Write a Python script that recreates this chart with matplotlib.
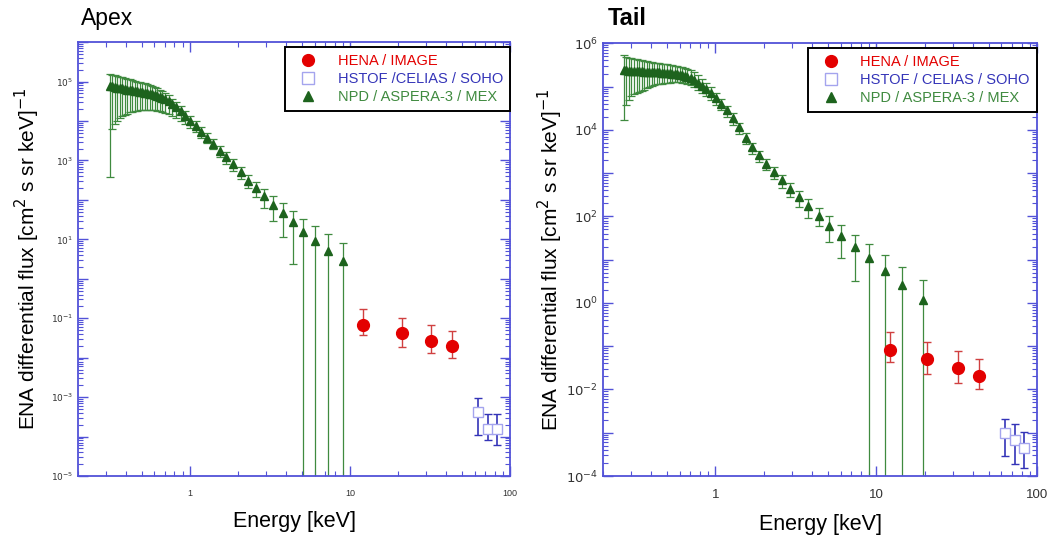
import matplotlib
matplotlib.use('Agg')
import matplotlib.pyplot as plt
from matplotlib.lines import Line2D
from matplotlib.ticker import LogLocator, FuncFormatter, NullFormatter
import numpy as np

plt.rcParams['font.family'] = ['Liberation Sans', 'DejaVu Sans']

# ---------------- Apex ----------------
# NPD / ASPERA-3 / MEX
apex_npd_energy = [0.316, 0.328, 0.340, 0.352, 0.365, 0.378, 0.392, 0.406, 0.421, 0.437,
                   0.452, 0.469, 0.485, 0.504, 0.521, 0.541, 0.560, 0.581, 0.601, 0.622,
                   0.646, 0.671, 0.701, 0.736, 0.776, 0.822, 0.875, 0.935, 1.005, 1.084,
                   1.175, 1.279, 1.400, 1.54, 1.69, 1.86, 2.07, 2.32, 2.58, 2.91,
                   3.32, 3.79, 4.39, 5.11, 6.07, 7.33, 8.99]
apex_npd_flux = [7.76e4, 7.59e4, 7.33e4, 7.08e4, 6.92e4, 6.76e4, 6.53e4, 6.31e4, 6.17e4, 6.03e4,
                 5.82e4, 5.62e4, 5.50e4, 5.37e4, 5.25e4, 5.01e4, 4.90e4, 4.73e4, 4.57e4, 4.37e4,
                 4.17e4, 3.89e4, 3.55e4, 3.16e4, 2.69e4, 2.24e4, 1.78e4, 1.35e4, 1.02e4, 7.59e3,
                 5.37e3, 3.80e3, 2.63e3, 1.78e3, 1.20e3, 794, 501, 309, 197, 123,
                 75.9, 46.5, 26.9, 15.8, 9.12, 5.09, 2.84]
apex_npd_high = [1.58e5, 1.51e5, 1.43e5, 1.38e5, 1.32e5, 1.29e5, 1.24e5, 1.17e5, 1.15e5, 1.10e5,
                 1.06e5, 1.00e5, 9.77e4, 9.33e4, 9.12e4, 8.51e4, 8.13e4, 7.67e4, 7.24e4, 6.76e4,
                 6.31e4, 5.75e4, 5.13e4, 4.47e4, 3.72e4, 3.02e4, 2.34e4, 1.78e4, 1.32e4, 9.77e3,
                 6.92e3, 4.90e3, 3.47e3, 2.34e3, 1.62e3, 1.07e3, 692, 437, 288, 191,
                 123, 81.3, 53.7, 32.4, 21.9, 13.5, 8.32]
apex_npd_low = [380, 6.31e3, 8.22e3, 1.00e4, 1.17e4, 1.35e4, 1.46e4, 1.55e4, 1.66e4, 1.74e4,
                1.80e4, 1.82e4, 1.86e4, 1.91e4, 1.91e4, 1.91e4, 1.91e4, 1.88e4, 1.86e4, 1.82e4,
                1.78e4, 1.70e4, 1.62e4, 1.51e4, 1.35e4, 1.20e4, 1.02e4, 8.32e3, 6.76e3, 5.25e3,
                3.80e3, 2.75e3, 1.91e3, 1.26e3, 832, 537, 331, 195, 117, 61.7,
                29.5, 11.5, 2.34, 0, 0, 0, 0]

# HENA / IMAGE
apex_hena_energy = [12.1, 21.0, 32.1, 43.2]
apex_hena_flux = [0.0667, 0.0427, 0.0272, 0.0195]
apex_hena_high = [0.174, 0.102, 0.0692, 0.0468]
apex_hena_low = [0.0372, 0.0186, 0.0132, 0.00955]

# HSTOF / CELIAS / SOHO
apex_hstof_energy = [62.8, 72.5, 82.6]
apex_hstof_flux = [4.17e-4, 1.55e-4, 1.55e-4]
apex_hstof_high = [9.5e-4, 3.8e-4, 3.8e-4]
apex_hstof_low = [1.1e-4, 8.3e-5, 6.2e-5]

# ---------------- Tail ----------------
tail_npd_energy = [0.270, 0.280, 0.290, 0.301, 0.312, 0.324, 0.336, 0.348, 0.361, 0.374,
                   0.388, 0.403, 0.418, 0.433, 0.449, 0.466, 0.483, 0.501, 0.519, 0.538,
                   0.558, 0.579, 0.601, 0.622, 0.646, 0.671, 0.701, 0.736, 0.776, 0.822,
                   0.875, 0.935, 1.005, 1.084, 1.175, 1.279, 1.400, 1.54, 1.69, 1.86,
                   2.07, 2.32, 2.58, 2.91, 3.32, 3.79, 4.39, 5.11, 6.07, 7.33,
                   8.99, 11.3, 14.5, 19.5]
tail_npd_flux = [2.40e5, 2.37e5, 2.34e5, 2.32e5, 2.29e5, 2.28e5, 2.25e5, 2.24e5, 2.22e5, 2.21e5,
                 2.19e5, 2.17e5, 2.15e5, 2.14e5, 2.12e5, 2.10e5, 2.08e5, 2.06e5, 2.03e5, 2.00e5,
                 1.95e5, 1.91e5, 1.86e5, 1.80e5, 1.74e5, 1.66e5, 1.55e5, 1.41e5, 1.23e5, 1.05e5,
                 8.71e4, 6.92e4, 5.37e4, 3.98e4, 2.82e4, 1.86e4, 1.15e4, 6.61e3, 3.98e3, 2.57e3,
                 1.66e3, 1.07e3, 692, 437, 275, 174, 102, 60.3, 35.5, 20.0,
                 11.0, 5.50, 2.57, 1.16]
tail_npd_high = [5.25e5, 4.90e5, 4.68e5, 4.47e5, 4.37e5, 4.27e5, 4.17e5, 4.07e5, 3.98e5, 3.89e5,
                 3.76e5, 3.67e5, 3.59e5, 3.51e5, 3.43e5, 3.39e5, 3.31e5, 3.24e5, 3.16e5, 3.09e5,
                 3.02e5, 2.95e5, 2.88e5, 2.79e5, 2.69e5, 2.57e5, 2.40e5, 2.14e5, 1.82e5, 1.51e5,
                 1.23e5, 9.55e4, 7.24e4, 5.25e4, 3.63e4, 2.40e4, 1.45e4, 8.32e3, 5.01e3, 3.24e3,
                 2.09e3, 1.35e3, 891, 589, 389, 251, 158, 100, 63.1, 38.0,
                 22.9, 12.6, 6.92, 3.31]
tail_npd_low = [1.66e4, 3.72e4, 5.01e4, 5.89e4, 6.61e4, 7.24e4, 7.59e4, 7.94e4, 8.51e4, 9.12e4,
                9.77e4, 1.02e5, 1.07e5, 1.12e5, 1.15e5, 1.17e5, 1.20e5, 1.23e5, 1.23e5, 1.26e5,
                1.26e5, 1.26e5, 1.26e5, 1.23e5, 1.20e5, 1.15e5, 1.07e5, 9.77e4, 8.51e4, 7.24e4,
                6.03e4, 4.90e4, 3.80e4, 2.82e4, 2.00e4, 1.32e4, 8.13e3, 4.68e3, 2.82e3, 1.78e3,
                1.15e3, 724, 457, 282, 166, 93.3, 58.9, 25.7, 11.2, 3.16,
                0, 0, 0, 0]

tail_hena_energy = [12.1, 20.7, 32.2, 43.6]
tail_hena_flux = [0.0813, 0.050, 0.0309, 0.0204]
tail_hena_high = [0.209, 0.123, 0.0776, 0.0495]
tail_hena_low = [0.0437, 0.0224, 0.0141, 0.0100]

tail_hstof_energy = [63.4, 72.9, 83.4]
tail_hstof_flux = [9.8e-4, 6.76e-4, 4.47e-4]
tail_hstof_high = [2.09e-3, 1.58e-3, 1.05e-3]
tail_hstof_low = [2.95e-4, 1.9e-4, 1.55e-4]

labels = ['HENA / IMAGE', 'HSTOF /CELIAS / SOHO', 'NPD / ASPERA-3 / MEX']
labels_tail = ['HENA / IMAGE', 'HSTOF / CELIAS / SOHO', 'NPD / ASPERA-3 / MEX']

axis_blue = '#5252d8'
green = '#1d631d'
green_bar = '#3f8a3f'
red = '#e30000'
red_bar = '#d04040'
blue_bar = '#3434b8'
square_edge = '#a4a4ee'


def yerr(flux, low, high):
    f = np.array(flux)
    return [f - np.array(low), np.array(high) - f]


def draw_panel(ax, npd, hena, hstof, ylim, odd, tick_size, legend_labels, ypad):
    ax.set_xscale('log')
    ax.set_yscale('log')

    e, f, lo, hi = npd
    ax.errorbar(e, f, yerr=yerr(f, lo, hi), fmt='^', color=green, ms=6,
                ecolor=green_bar, elinewidth=0.9, capsize=3, capthick=0.9)
    e, f, lo, hi = hena
    ax.errorbar(e, f, yerr=yerr(f, lo, hi), fmt='o', color=red, ms=8.5,
                ecolor=red_bar, elinewidth=1.0, capsize=3, capthick=1.0)
    e, f, lo, hi = hstof
    ax.errorbar(e, f, yerr=yerr(f, lo, hi), fmt='s', mfc='white', mec=square_edge,
                mew=1.0, ms=7, ecolor=blue_bar, elinewidth=1.2, capsize=3, capthick=1.2)

    ax.set_xlim(0.2, 100)
    ax.set_ylim(*ylim)

    # 坐标轴样式
    for sp in ax.spines.values():
        sp.set_color(axis_blue)
        sp.set_linewidth(1.3)
    ax.tick_params(which='both', direction='in', top=True, right=True, color=axis_blue)
    ax.tick_params(which='major', length=7, width=1.0, labelsize=tick_size, labelcolor='#333333')
    ax.tick_params(which='minor', length=3.5, width=0.8)
    ax.tick_params(axis='x', which='major', pad=9)

    ax.xaxis.set_major_locator(LogLocator(base=10, numticks=10))
    ax.xaxis.set_minor_locator(LogLocator(base=10, subs=np.arange(2, 10), numticks=10))
    ax.xaxis.set_major_formatter(FuncFormatter(lambda v, p: '%g' % v))
    ax.xaxis.set_minor_formatter(NullFormatter())

    def ylab(v, p):
        k = int(round(np.log10(v)))
        if k % 2 == odd:
            return r'$10^{%d}$' % k
        return ''
    ax.yaxis.set_major_locator(LogLocator(base=10, numticks=20))
    ax.yaxis.set_minor_locator(LogLocator(base=10, subs=np.arange(2, 10), numticks=20))
    ax.yaxis.set_major_formatter(FuncFormatter(ylab))
    ax.yaxis.set_minor_formatter(NullFormatter())

    ax.set_xlabel('Energy [keV]', fontsize=15.5, labelpad=10)
    ax.set_ylabel(r'ENA differential flux [cm$^2$ s sr keV]$^{-1}$', fontsize=15, labelpad=ypad)

    handles = [Line2D([], [], marker='o', color=red, ls='none', ms=8.5),
               Line2D([], [], marker='s', mfc='white', mec=square_edge, ls='none', ms=8.5),
               Line2D([], [], marker='^', color=green, ls='none', ms=7)]
    leg = ax.legend(handles, legend_labels, loc='upper right', bbox_to_anchor=(1.0, 0.99),
                    borderaxespad=0, fancybox=False, edgecolor='black', framealpha=1,
                    fontsize=10.5, handletextpad=0.9, labelspacing=0.28, borderpad=0.5,
                    handlelength=2.2)
    leg.get_frame().set_linewidth(1.4)
    for t, c in zip(leg.get_texts(), [red, blue_bar, green_bar]):
        t.set_color(c)


fig = plt.figure(figsize=(10.54, 5.45), dpi=100)
ax1 = fig.add_axes([0.074, 0.1266, 0.410, 0.796])
ax2 = fig.add_axes([0.572, 0.1266, 0.412, 0.794])

draw_panel(ax1,
           (apex_npd_energy, apex_npd_flux, apex_npd_low, apex_npd_high),
           (apex_hena_energy, apex_hena_flux, apex_hena_low, apex_hena_high),
           (apex_hstof_energy, apex_hstof_flux, apex_hstof_low, apex_hstof_high),
           (1e-5, 1e6), 1, 6.5, labels, 6)
draw_panel(ax2,
           (tail_npd_energy, tail_npd_flux, tail_npd_low, tail_npd_high),
           (tail_hena_energy, tail_hena_flux, tail_hena_low, tail_hena_high),
           (tail_hstof_energy, tail_hstof_flux, tail_hstof_low, tail_hstof_high),
           (1e-4, 1e6), 0, 9.5, labels_tail, 1)

fig.text(0.077, 0.966, 'Apex', fontsize=16.5, va='center', ha='left')
fig.text(0.577, 0.966, 'Tail', fontsize=17, fontweight='bold', va='center', ha='left')

fig.savefig('out.png', dpi=100)
